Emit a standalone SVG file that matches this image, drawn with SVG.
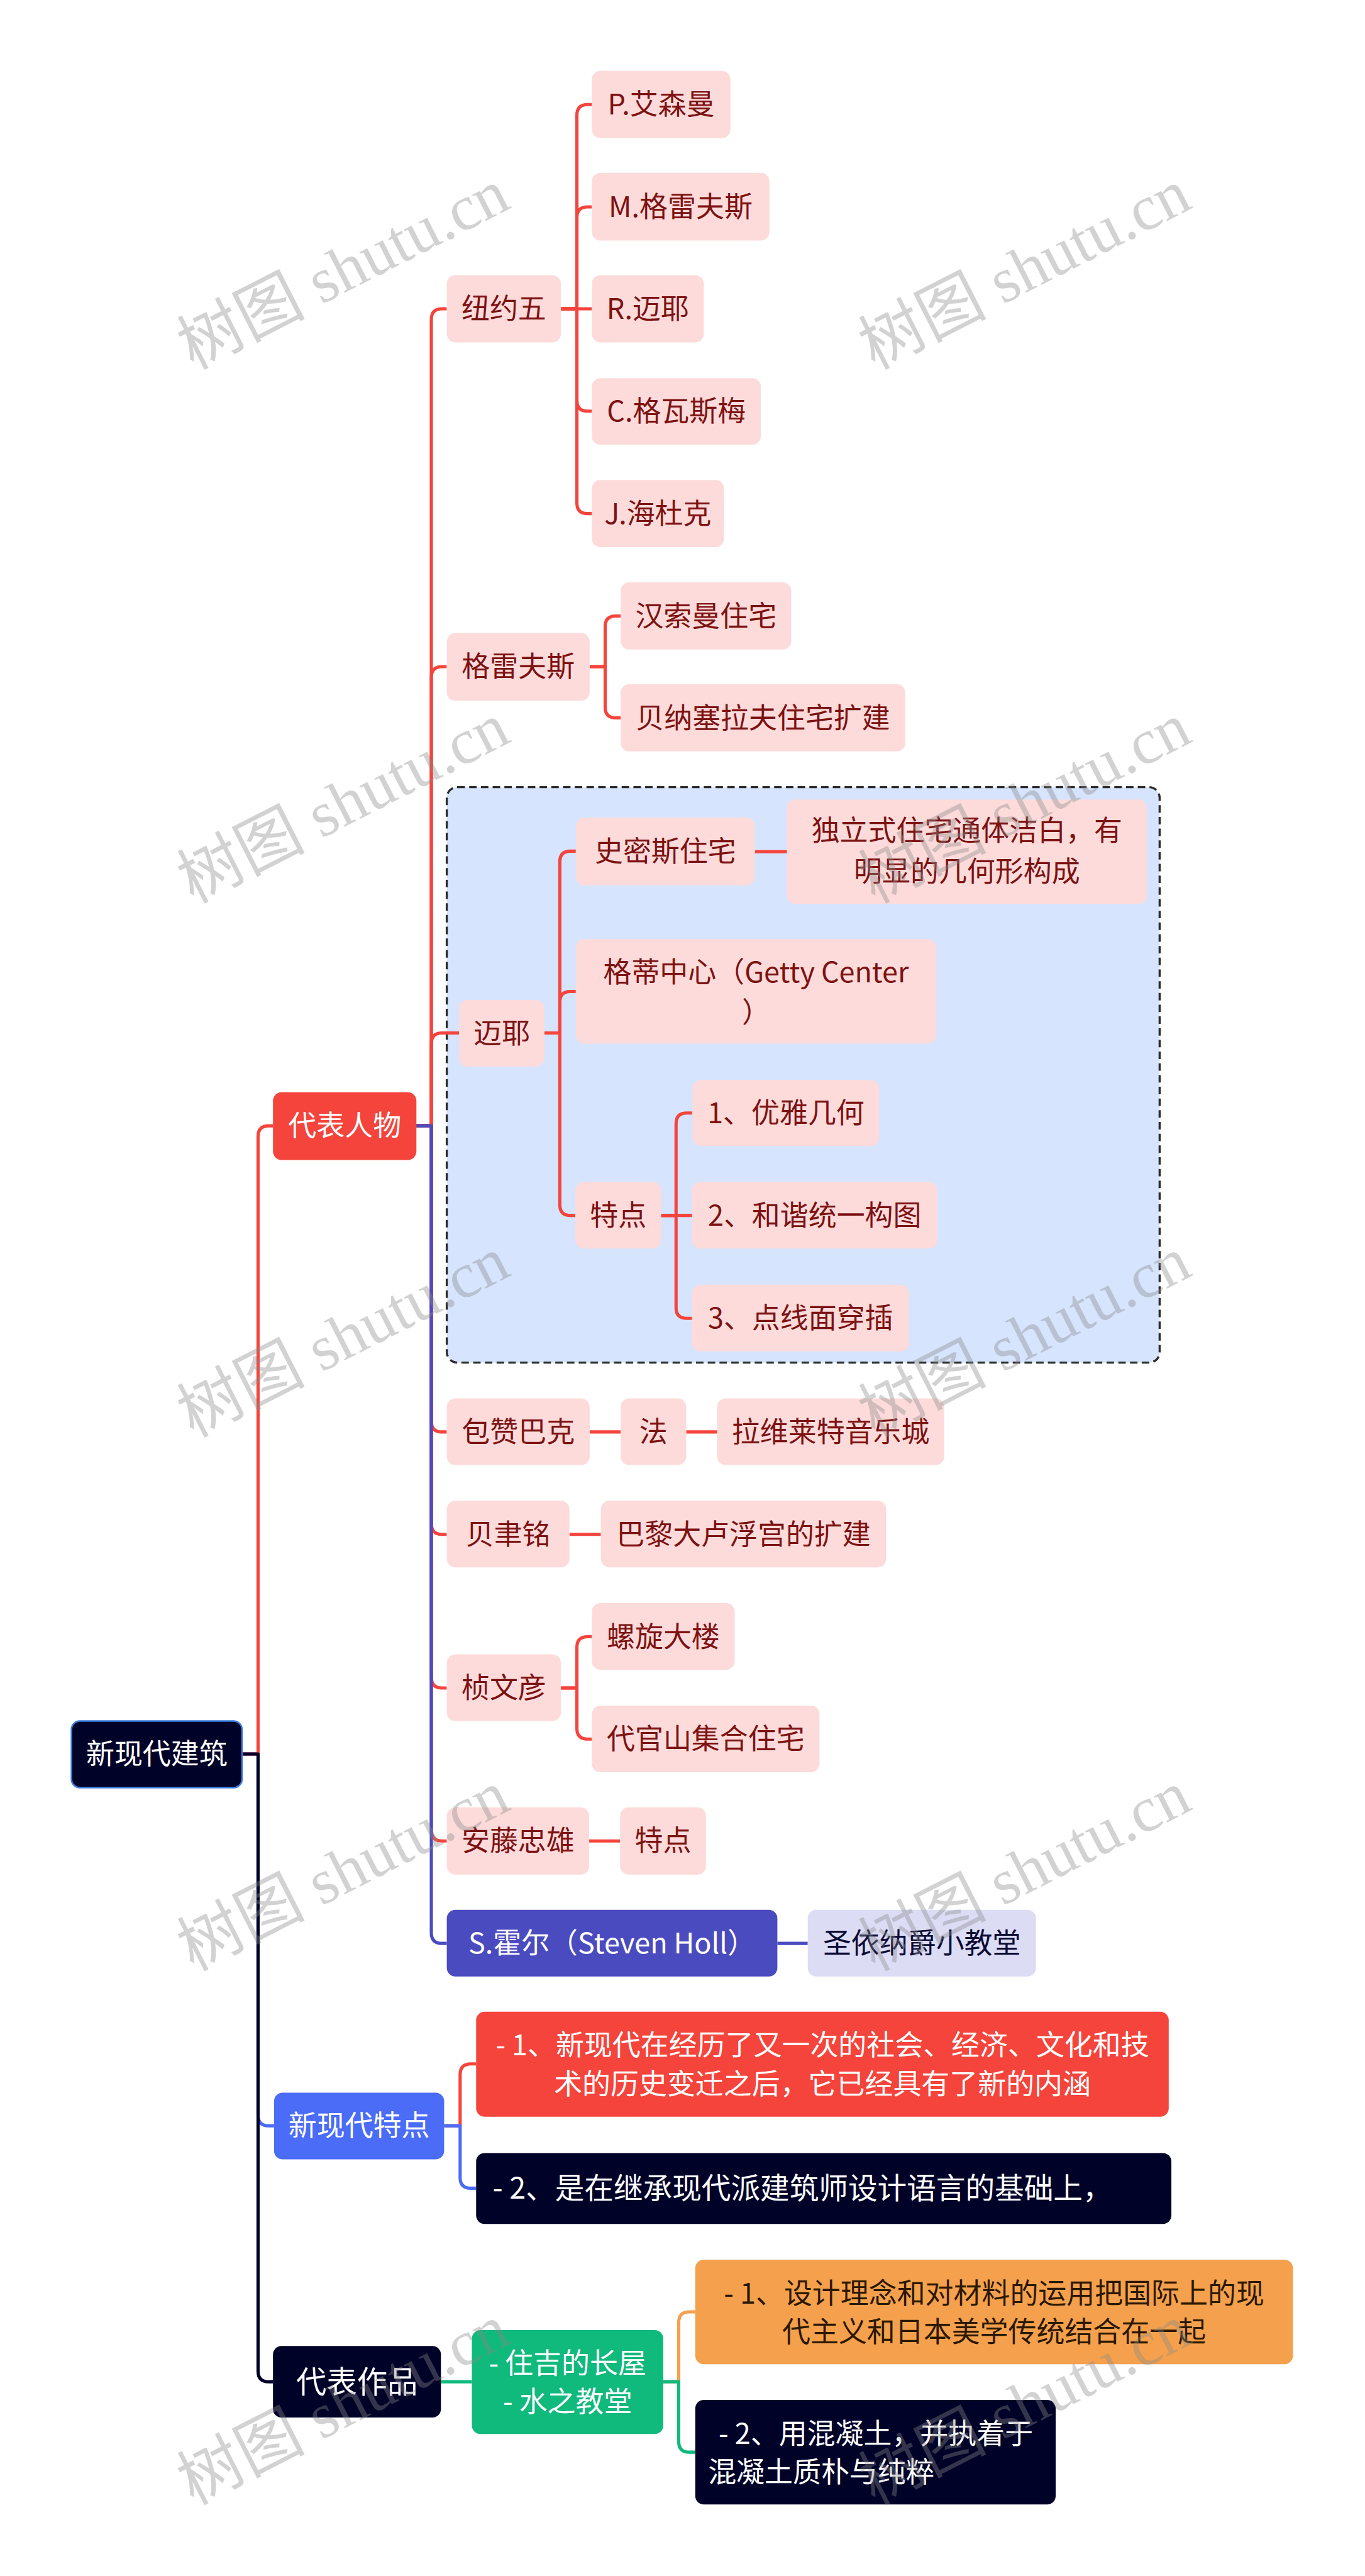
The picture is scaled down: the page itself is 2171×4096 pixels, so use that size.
<svg xmlns="http://www.w3.org/2000/svg" width="2171" height="4096" viewBox="0 0 2171 4096">
<style>
.t{font-family:"Noto Sans CJK SC","Noto Sans",sans-serif;font-size:53px;text-anchor:middle}
.ts{font-family:"Noto Sans CJK SC","Noto Sans",sans-serif;font-size:53px;text-anchor:start}
.pk{fill:#fddbdb}
.tp{fill:#7d1212}
.tw{fill:#ffffff}
.c{fill:none;stroke-width:6;stroke-linejoin:round}
.red{stroke:#f5443c}
.blu{stroke:#4b4bc0}
.blu2{stroke:#4a6cf7}
.drk{stroke:#000228}
.grn{stroke:#10b97c}
.org{stroke:#f4a04c}
.wm{font-family:"Liberation Serif","Noto Sans CJK SC",serif;font-size:120px;fill:#8a8a8a;fill-opacity:0.38}
</style>
<rect width="2171" height="4096" fill="#ffffff"/>
<g transform="scale(0.848)">
<rect id="dashed-group" x="838" y="1476" width="1337" height="1079" rx="20" fill="#d6e4fd" stroke="#2b2b2b" stroke-width="4" stroke-dasharray="14 8"/>
<g id="connectors">
<path class="c blu2" d="M454 3289H484V3966Q484 3986 504 3986H514"/>
<path class="c red" d="M454 3289H484V2131Q484 2111 504 2111H512"/>
<path class="c drk" d="M454 3289H484V4446Q484 4466 504 4466H512"/>
<path class="c red" d="M781 2111H809V599Q809 579 829 579H838"/>
<path class="c red" d="M781 2111H809V1270Q809 1250 829 1250H838"/>
<path class="c red" d="M781 2111H809V1957Q809 1937 829 1937H861"/>
<path class="c red" d="M781 2111H809V2665Q809 2685 829 2685H838"/>
<path class="c red" d="M781 2111H809V2857Q809 2877 829 2877H838"/>
<path class="c red" d="M781 2111H809V3145Q809 3165 829 3165H838"/>
<path class="c red" d="M781 2111H809V3432Q809 3452 829 3452H838"/>
<path class="c blu" d="M781 2111H809V3624Q809 3644 829 3644H838"/>
<path class="c red" d="M1052 579H1082V216Q1082 196 1102 196H1110"/>
<path class="c red" d="M1052 579H1082V408Q1082 388 1102 388H1110"/>
<path class="c red" d="M1052 579H1110"/>
<path class="c red" d="M1052 579H1082V751Q1082 771 1102 771H1110"/>
<path class="c red" d="M1052 579H1082V943Q1082 963 1102 963H1110"/>
<path class="c red" d="M1106 1250H1135V1175Q1135 1155 1155 1155H1164"/>
<path class="c red" d="M1106 1250H1135V1326Q1135 1346 1155 1346H1164"/>
<path class="c red" d="M1021 1937H1050V1616Q1050 1596 1070 1596H1080"/>
<path class="c red" d="M1021 1937H1050V1879Q1050 1859 1070 1859H1080"/>
<path class="c red" d="M1021 1937H1050V2259Q1050 2279 1070 2279H1080"/>
<path class="c red" d="M1416 1597H1476"/>
<path class="c red" d="M1240 2279H1268V2107Q1268 2087 1288 2087H1298"/>
<path class="c red" d="M1240 2279H1298"/>
<path class="c red" d="M1240 2279H1268V2452Q1268 2472 1288 2472H1298"/>
<path class="c red" d="M1106 2685H1164"/>
<path class="c red" d="M1287 2685H1345"/>
<path class="c red" d="M1068 2877H1127"/>
<path class="c red" d="M1052 3165H1082V3089Q1082 3069 1102 3069H1110"/>
<path class="c red" d="M1052 3165H1082V3241Q1082 3261 1102 3261H1110"/>
<path class="c red" d="M1105 3452H1163"/>
<path class="c blu" d="M1458 3644H1515"/>
<path class="c red" d="M833 3986H863V3890Q863 3870 883 3870H893"/>
<path class="c blu2" d="M833 3986H863V4083Q863 4103 883 4103H893"/>
<path class="c grn" d="M827 4466H885"/>
<path class="c org" d="M1244 4466H1273V4355Q1273 4335 1293 4335H1304"/>
<path class="c grn" d="M1244 4466H1273V4578Q1273 4598 1293 4598H1304"/>
</g>
<g id="root"><rect x="134" y="3227" width="320" height="125" rx="16" fill="#000228" stroke="#3d7fe0" stroke-width="3"/><text class="t tw" x="294" y="3308">新现代建筑</text></g>
<g id="daibiaorenwu"><rect x="512" y="2048" width="269" height="127" rx="16" fill="#f5443c"/><text class="t tw" x="646.5" y="2130">代表人物</text></g>
<g id="xinxiandaitedian"><rect x="514" y="3924" width="319" height="125" rx="16" fill="#4a6cf7"/><text class="t tw" x="673.5" y="4005">新现代特点</text></g>
<g id="daibiaozuopin"><rect x="512" y="4399" width="315" height="134" rx="16" fill="#000228"/><text class="t tw" x="669.5" y="4487" style="font-size:57px">代表作品</text></g>
<g id="niuyuewu"><rect class="pk" x="838" y="516" width="214" height="126" rx="16"/><text class="t tp" x="945" y="598">纽约五</text></g>
<g id="aisenman"><rect class="pk" x="1110" y="133" width="260" height="126" rx="16"/><text class="t tp" x="1240" y="215">P.艾森曼</text></g>
<g id="geleifusi1"><rect class="pk" x="1110" y="324" width="333" height="127" rx="16"/><text class="t tp" x="1276.5" y="407">M.格雷夫斯</text></g>
<g id="maiye1"><rect class="pk" x="1110" y="516" width="210" height="126" rx="16"/><text class="t tp" x="1215" y="598">R.迈耶</text></g>
<g id="gewasimei"><rect class="pk" x="1110" y="709" width="317" height="125" rx="16"/><text class="t tp" x="1268.5" y="790">C.格瓦斯梅</text></g>
<g id="haiduke"><rect class="pk" x="1110" y="900" width="248" height="126" rx="16"/><text class="t tp" x="1234" y="982">J.海杜克</text></g>
<g id="geleifusi"><rect class="pk" x="838" y="1187" width="268" height="127" rx="16"/><text class="t tp" x="972" y="1269">格雷夫斯</text></g>
<g id="hansuoman"><rect class="pk" x="1164" y="1092" width="320" height="126" rx="16"/><text class="t tp" x="1324" y="1174">汉索曼住宅</text></g>
<g id="beinasailafu"><rect class="pk" x="1164" y="1283" width="534" height="126" rx="16"/><text class="t tp" x="1431" y="1365">贝纳塞拉夫住宅扩建</text></g>
<g id="maiye"><rect class="pk" x="861" y="1875" width="160" height="125" rx="16"/><text class="t tp" x="941" y="1956">迈耶</text></g>
<g id="shimisi"><rect class="pk" x="1080" y="1533" width="336" height="127" rx="16"/><text class="t tp" x="1248" y="1615">史密斯住宅</text></g>
<g id="dulishi"><rect class="pk" x="1476" y="1499" width="675" height="196" rx="16"/><text class="t tp" x="1813.5" y="1577">独立式住宅通体洁白，有</text><text class="t tp" x="1813.5" y="1653">明显的几何形构成</text></g>
<g id="getty"><rect class="pk" x="1080" y="1761" width="676" height="196" rx="16"/><text class="t tp" x="1418" y="1842">格蒂中心（Getty Center</text><text class="t tp" x="1418" y="1918">）</text></g>
<g id="tedian1"><rect class="pk" x="1079" y="2216" width="161" height="125" rx="16"/><text class="t tp" x="1159.5" y="2298">特点</text></g>
<g id="youya"><rect class="pk" x="1299" y="2025" width="350" height="124" rx="16"/><text class="t tp" x="1474" y="2106">1、优雅几何</text></g>
<g id="hexie"><rect class="pk" x="1298" y="2216" width="460" height="125" rx="16"/><text class="t tp" x="1528" y="2298">2、和谐统一构图</text></g>
<g id="dianxian"><rect class="pk" x="1298" y="2409" width="407" height="125" rx="16"/><text class="t tp" x="1501.5" y="2491">3、点线面穿插</text></g>
<g id="baozanbake"><rect class="pk" x="838" y="2622" width="268" height="125" rx="16"/><text class="t tp" x="972" y="2704">包赞巴克</text></g>
<g id="fa"><rect class="pk" x="1164" y="2622" width="123" height="125" rx="16"/><text class="t tp" x="1225.5" y="2704">法</text></g>
<g id="laweilaite"><rect class="pk" x="1345" y="2622" width="426" height="125" rx="16"/><text class="t tp" x="1558" y="2704">拉维莱特音乐城</text></g>
<g id="beiyuming"><rect class="pk" x="838" y="2814" width="230" height="125" rx="16"/><text class="t tp" x="953" y="2896">贝聿铭</text></g>
<g id="luxuan"><rect class="pk" x="1127" y="2814" width="535" height="125" rx="16"/><text class="t tp" x="1394.5" y="2896">巴黎大卢浮宫的扩建</text></g>
<g id="zhenwenyan"><rect class="pk" x="838" y="3102" width="214" height="125" rx="16"/><text class="t tp" x="945" y="3184">桢文彦</text></g>
<g id="luoxuan"><rect class="pk" x="1110" y="3006" width="268" height="125" rx="16"/><text class="t tp" x="1244" y="3088">螺旋大楼</text></g>
<g id="daiguanshan"><rect class="pk" x="1110" y="3198" width="427" height="125" rx="16"/><text class="t tp" x="1323.5" y="3280">代官山集合住宅</text></g>
<g id="andou"><rect class="pk" x="838" y="3389" width="267" height="126" rx="16"/><text class="t tp" x="971.5" y="3471">安藤忠雄</text></g>
<g id="tedian2"><rect class="pk" x="1163" y="3389" width="161" height="126" rx="16"/><text class="t tp" x="1243.5" y="3471">特点</text></g>
<g id="huoer"><rect x="838" y="3581" width="620" height="125" rx="16" fill="#4b4bc0"/><text class="t tw" x="1148" y="3663">S.霍尔（Steven Holl）</text></g>
<g id="shengyinajue"><rect x="1515" y="3581" width="428" height="125" rx="16" fill="#dcdcf5"/><text class="t" fill="#0b0b33" x="1729" y="3663">圣依纳爵小教堂</text></g>
<g id="tedian-1"><rect x="893" y="3772" width="1299" height="197" rx="16" fill="#f5443c"/><text class="t tw" x="1542.5" y="3854">- 1、新现代在经历了又一次的社会、经济、文化和技</text><text class="t tw" x="1542.5" y="3927">术的历史变迁之后，它已经具有了新的内涵</text></g>
<g id="tedian-2"><rect x="893" y="4037" width="1304" height="133" rx="16" fill="#000228"/><text class="ts tw" x="924" y="4123" style="font-size:55px">- 2、是在继承现代派建筑师设计语言的基础上，</text></g>
<g id="zuopin"><rect x="885" y="4369" width="359" height="195" rx="16" fill="#10b97c"/><text class="t tw" x="1064.5" y="4450">- 住吉的长屋</text><text class="t tw" x="1064.5" y="4522">- 水之教堂</text></g>
<g id="zuopin-1"><rect x="1304" y="4237" width="1121" height="196" rx="16" fill="#f4a04c"/><text class="t" fill="#2b1800" x="1864.5" y="4320">- 1、设计理念和对材料的运用把国际上的现</text><text class="t" fill="#2b1800" x="1864.5" y="4391">代主义和日本美学传统结合在一起</text></g>
<g id="zuopin-2"><rect x="1304" y="4500" width="676" height="196" rx="16" fill="#000228"/><text class="ts tw" x="1348" y="4582">- 2、用混凝土，并执着于</text><text class="ts tw" x="1328" y="4654">混凝土质朴与纯粹</text></g>
<g id="watermarks">
<text class="wm" transform="translate(362 694) rotate(-27)">树图 shutu.cn</text>
<text class="wm" transform="translate(1640 694) rotate(-27)">树图 shutu.cn</text>
<text class="wm" transform="translate(362 1695) rotate(-27)">树图 shutu.cn</text>
<text class="wm" transform="translate(1640 1695) rotate(-27)">树图 shutu.cn</text>
<text class="wm" transform="translate(362 2696) rotate(-27)">树图 shutu.cn</text>
<text class="wm" transform="translate(1640 2696) rotate(-27)">树图 shutu.cn</text>
<text class="wm" transform="translate(362 3697) rotate(-27)">树图 shutu.cn</text>
<text class="wm" transform="translate(1640 3697) rotate(-27)">树图 shutu.cn</text>
<text class="wm" transform="translate(362 4698) rotate(-27)">树图 shutu.cn</text>
<text class="wm" transform="translate(1640 4698) rotate(-27)">树图 shutu.cn</text>
</g>
</g>
</svg>
